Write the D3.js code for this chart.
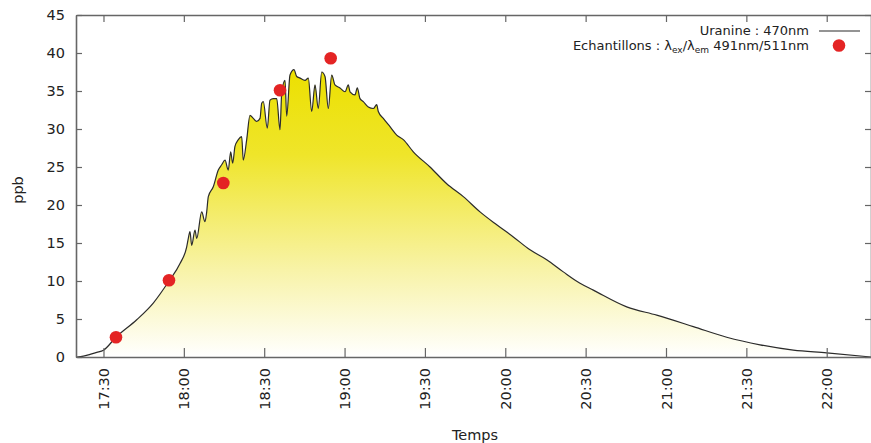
<!DOCTYPE html>
<html><head><meta charset="utf-8">
<script src="https://cdn.jsdelivr.net/npm/d3@7"></script>
<style>
body{margin:0;background:#fff;}
svg{display:block;font-family:"DejaVu Sans",sans-serif;}
</style></head><body>
<svg id="c" width="871" height="443"></svg>
<script>
// ---- data ----
const uranineTimes = ["17:20:00","17:22:30","17:25:00","17:27:30","17:30:00","17:34:40","17:42:24","17:48:35","17:54:27","17:58:34",
"18:01:04","18:01:40","18:02:17","18:02:56","18:04:10","18:04:48","18:06:40","18:07:53","18:08:32","18:09:08",
"18:10:59","18:12:52","18:14:08","18:15:22","18:16:35","18:17:29","18:18:14","18:19:05","18:20:20","18:21:36",
"18:22:11","18:23:28","18:24:41","18:25:56","18:27:12","18:28:26","18:29:04","18:29:40",
"18:31:09","18:32:10","18:33:23","18:34:40","18:35:54","18:36:32","18:37:46","18:38:24","18:39:38","18:41:07",
"18:42:08","18:43:22","18:45:14","18:46:28","18:47:44","18:48:58","18:50:11","18:51:28","18:52:42","18:53:56",
"18:55:12","18:56:26","18:58:18",
"19:00:10","19:01:24","19:02:02","19:03:54","19:04:45","19:05:46","19:07:00","19:08:52","19:10:44","19:12:00",
"19:12:36","19:14:28","19:16:58","19:19:28","19:21:56","19:25:40","19:31:54","19:38:08","19:44:20","19:50:34",
"19:56:48","20:03:00","20:09:14","20:15:28","20:21:40","20:27:54","20:32:52","20:45:20","20:56:32","21:10:12",
"21:22:40","21:35:06","21:47:32","22:00:00","22:16:32"];
const uranineValues = [0,0.12,0.35,0.6,0.9,2.6,4.9,7.1,10.0,12.3,
14.5,15.6,16.5,14.7,16.7,15.6,19.1,17.8,19.1,21.1,
22.4,24.6,25.3,25.9,24.6,27.0,25.5,27.7,28.6,29.0,
25.9,28.6,31.8,31.4,31.0,31.4,33.4,33.6,
30.1,33.8,34.0,34.0,29.9,34.7,36.4,31.7,37.1,37.8,
36.9,36.7,36.4,36.7,32.3,35.8,32.7,37.5,36.9,32.7,
37.1,35.8,35.4,
34.9,35.8,34.9,34.5,35.4,34.0,33.6,32.9,32.7,33.2,
32.3,31.4,30.3,29.2,28.6,27.0,25.0,22.8,21.1,19.1,
17.4,15.8,14.1,12.8,11.2,9.7,8.8,6.6,5.5,4.0,
2.6,1.6,0.9,0.55,0];
const sampleTimes = ["17:34:40","17:54:27","18:14:44","18:35:54","18:54:49"];
const sampleValues = [2.6,10.1,22.9,35.1,39.3];
const xTickLabels = ["17:30","18:00","18:30","19:00","19:30","20:00","20:30","21:00","21:30","22:00"];
const yTickValues = [0,5,10,15,20,25,30,35,40,45];
const legendLabels = ["Uranine : 470nm","Echantillons : "];

// ---- scales ----
const day = "2000-01-01 ";
const pt = d3.timeParse("%Y-%m-%d %H:%M:%S");
const ptm = d3.timeParse("%Y-%m-%d %H:%M");
const T = s => s.length > 5 ? pt(day + s) : ptm(day + s);

const x = d3.scaleTime()
  .domain([T("17:20:00"), T("22:16:32")])
  .range([76.7, 871]);
const y = d3.scaleLinear().domain([0,45]).range([357,15]);

const svg = d3.select("#c");
const defs = svg.append("defs");
const g = defs.append("linearGradient").attr("id","fillg")
  .attr("gradientUnits","userSpaceOnUse").attr("x1",0).attr("x2",0)
  .attr("y1",y(38)).attr("y2",y(0));
g.append("stop").attr("offset",0).attr("stop-color","#ece000");
g.append("stop").attr("offset",0.3).attr("stop-color","#efe52a");
g.append("stop").attr("offset",0.7).attr("stop-color","#f8f3a8");
g.append("stop").attr("offset",1).attr("stop-color","#ffffff");

const pts = uranineTimes.map((t,i)=>({t:T(t),v:uranineValues[i]}));

svg.append("path").datum(pts)
  .attr("fill","url(#fillg)")
  .attr("d", d3.area().curve(d3.curveMonotoneX).x(d=>x(d.t)).y0(y(0)).y1(d=>y(d.v)));

svg.append("path").datum(pts)
  .attr("fill","none").attr("stroke","#2b2b2b").attr("stroke-width",1.2)
  .attr("stroke-linejoin","round")
  .attr("d", d3.line().curve(d3.curveMonotoneX).x(d=>x(d.t)).y(d=>y(d.v)));

// samples
svg.append("g").selectAll("circle").data(sampleTimes).join("circle")
  .attr("cx",(d)=>x(T(d))).attr("cy",(d,i)=>y(sampleValues[i]))
  .attr("r",6.3).attr("fill","#e42424");

// ---- axes ----
const axColor = "#666";
const xTicks = xTickLabels.map(T);
const fmt = d3.timeFormat("%H:%M");

const gb = svg.append("g").attr("transform",`translate(0,${y(0)})`)
  .call(d3.axisBottom(x).tickValues(xTicks).tickFormat(fmt).tickSize(-9).tickSizeOuter(0));
gb.selectAll("text").attr("transform","translate(0,11) rotate(-90)")
  .attr("x",0).attr("y",0).attr("dy","0.35em").attr("text-anchor","end");

const gt = svg.append("g").attr("transform",`translate(0,${y(45)})`)
  .call(d3.axisTop(x).tickValues(xTicks).tickFormat("").tickSize(-7).tickSizeOuter(0));

const gl = svg.append("g").attr("transform","translate(76,0)")
  .call(d3.axisLeft(y).tickValues(yTickValues).tickSize(-6).tickPadding(11).tickSizeOuter(0));

const gr = svg.append("g").attr("transform","translate(871,0)")
  .call(d3.axisRight(y).tickValues(yTickValues).tickFormat("").tickSize(-6).tickSizeOuter(0));

[gb,gt,gl,gr].forEach(a=>{
  a.select(".domain").attr("stroke",axColor).attr("stroke-width",1.6);
  a.selectAll(".tick line").attr("stroke",axColor).attr("stroke-width",1.2);
  a.selectAll("text").attr("fill","#222").style("font-size","14.5px").style("font-family","DejaVu Sans");
});

// axis titles
svg.append("text").attr("transform","translate(23,190) rotate(-90)")
  .attr("text-anchor","middle").attr("fill","#222").style("font-size","14.5px").text("ppb");
svg.append("text").attr("x",475).attr("y",440)
  .attr("text-anchor","middle").attr("fill","#222").style("font-size","14.5px").text("Temps");

// legend
const lg = svg.append("g").style("font-size","13px").attr("fill","#222");
lg.append("text").attr("x",809).attr("y",35).attr("text-anchor","end").text(legendLabels[0]);
lg.append("line").attr("x1",819).attr("x2",860).attr("y1",31).attr("y2",31)
  .attr("stroke","#2b2b2b").attr("stroke-width",1.2);
const t2 = lg.append("text").attr("x",809).attr("y",50).attr("text-anchor","end");
t2.append("tspan").text(legendLabels[1] + "λ");
t2.append("tspan").attr("dy",3).style("font-size","9px").text("ex");
t2.append("tspan").attr("dy",-3).text("/λ");
t2.append("tspan").attr("dy",3).style("font-size","9px").text("em");
t2.append("tspan").attr("dy",-3).text(" 491nm/511nm");
lg.append("circle").attr("cx",839).attr("cy",45.5).attr("r",6.3).attr("fill","#e42424");
</script>
</body></html>
